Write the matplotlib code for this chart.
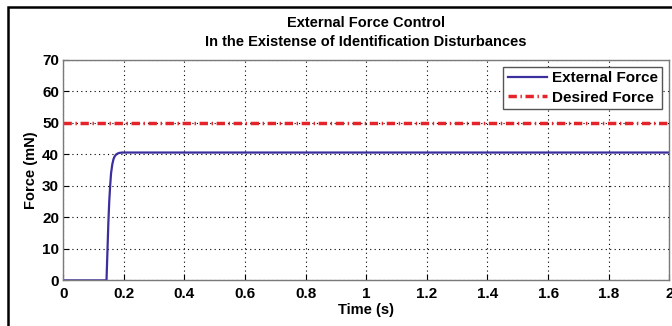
import matplotlib.pyplot as plt
from matplotlib.patches import Rectangle

plt.rcParams['font.family'] = ['Liberation Sans', 'DejaVu Sans']
plt.rcParams['font.weight'] = 'bold'

# data
time_s = [0, 0.143, 0.146, 0.149, 0.152, 0.155, 0.158, 0.162, 0.166, 0.170, 0.175, 0.180, 0.186, 0.195, 0.21, 2.0]
force_mn = [0, 0, 9, 18, 25, 30, 34, 36.8, 38.5, 39.4, 40.0, 40.3, 40.5, 40.6, 40.6, 40.6]
desired_t = [0, 2.0]
desired_f = [50, 50]

x_ticks = [0, 0.2, 0.4, 0.6, 0.8, 1, 1.2, 1.4, 1.6, 1.8, 2]
x_labels = ['0', '0.2', '0.4', '0.6', '0.8', '1', '1.2', '1.4', '1.6', '1.8', '2']
y_ticks = [0, 10, 20, 30, 40, 50, 60, 70]

fig = plt.figure(figsize=(6.72, 3.26), dpi=100)
ax = fig.add_axes([0.094, 0.14, 0.902, 0.676])

ax.plot(time_s, force_mn, color='#3b2f9e', lw=1.6, label='External Force')
ax.plot(desired_t, desired_f, color='#e5232b', lw=2.5, dash_capstyle='butt',
        dashes=(2.4, 1.05, 0.4, 1.05), label='Desired Force')

ax.set_xlim(0, 2)
ax.set_ylim(0, 70)
ax.set_xticks(x_ticks)
ax.set_xticklabels(x_labels)
ax.set_yticks(y_ticks)
ax.tick_params(direction='in', labelsize=11, length=4, width=0.8)
ax.tick_params(axis='x', pad=5)
ax.tick_params(axis='y', pad=3)
ax.grid(True, color='black', linestyle=(0, (1, 3)), linewidth=0.8)
for s in ax.spines.values():
    s.set_color('#7a7a7a')
    s.set_linewidth(1)

ax.set_xlabel('Time (s)', fontsize=10.5, fontweight='bold', labelpad=1)
ax.set_ylabel('Force (mN)', fontsize=10.5, fontweight='bold', labelpad=3)
ax.set_title('External Force Control\nIn the Existense of Identification Disturbances',
             fontsize=10.5, fontweight='bold', pad=10, linespacing=1.5)

leg = ax.legend(loc='upper right', fontsize=11, handlelength=2.6, handletextpad=0.3,
                borderpad=0.3, labelspacing=0.35, fancybox=False, framealpha=1,
                borderaxespad=0.45)
leg.get_frame().set_edgecolor('#555555')
leg.get_frame().set_linewidth(1)
for t in leg.get_texts():
    t.set_fontweight('bold')

# outer frame around the figure
fig.patches.append(Rectangle((8 / 672, -0.1), 1.1, 1 - 7 / 326 + 0.1, transform=fig.transFigure,
                             fill=False, edgecolor='black', linewidth=1.8))

fig.savefig('out.png', dpi=100)
